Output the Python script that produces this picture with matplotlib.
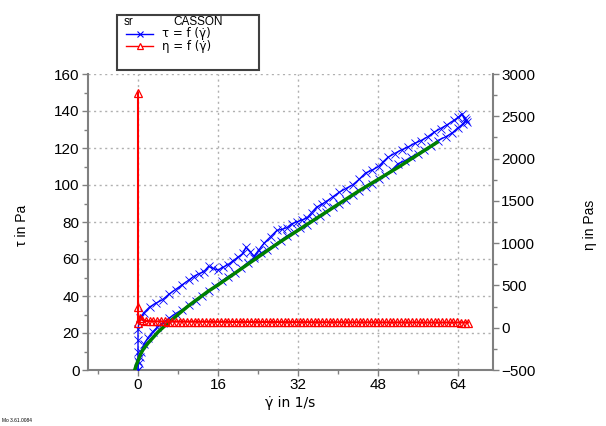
import matplotlib
matplotlib.use("Agg")
import matplotlib.pyplot as plt
from matplotlib.patches import Rectangle
from matplotlib.lines import Line2D

plt.rcParams['font.family'] = ['Liberation Sans', 'DejaVu Sans']

# shear stress, up ramp (shear rate 1/s, tau Pa)
g_up = [0, 0, 0, 0, 0, 0.3, 1.2, 2.3, 3.5, 4.9, 6.2, 7.5, 8.8, 10.1, 11.1, 12.1,
        13.1, 14.1, 15.0, 16.0, 17.0, 18.0, 19.0, 20.0, 21.0, 21.6, 22.4, 23.2,
        24.2, 25.2, 26.5, 27.8, 28.8, 29.8, 30.7, 31.7, 32.7, 33.7, 34.7, 35.7,
        36.7, 37.6, 38.9, 40.2, 41.5, 42.9, 44.2, 45.5, 46.8, 48.1, 49.0, 50.0,
        51.3, 52.7, 54.0, 55.3, 56.6, 57.9, 59.2, 60.5, 61.8, 63.2, 64.0, 64.8,
        65.3, 65.7]
tau_up = [0, 5, 10, 16, 22, 28, 31, 34, 36, 38, 41, 43.5, 46, 48.5, 50.5, 52,
          53, 56, 55, 54, 55.5, 57, 59, 61, 63, 66.5, 64, 61.5,
          65, 68.5, 72, 75.5, 76, 77, 79, 80, 81, 82, 85, 88,
          89.5, 91, 93.5, 96, 98, 100, 103, 106.5, 108, 110, 112.5, 115,
          117, 119, 120.5, 122.5, 124, 126, 128.5, 130.5, 132.5, 135, 136.5, 138.5,
          136, 134]

# shear stress, down ramp
g_down = [65.5, 65.0, 64.0, 62.8, 61.5, 59.9, 58.5, 57.2, 56.0, 54.6, 53.3, 52.0,
          50.7, 49.4, 48.1, 46.8, 45.5, 44.2, 42.9, 41.5, 40.2, 38.9, 37.6, 36.3,
          35.0, 33.7, 32.4, 31.1, 29.8, 28.5, 27.2, 25.8, 24.5, 23.2, 21.9, 20.6,
          19.3, 18.0, 16.7, 15.4, 14.1, 12.8, 11.5, 10.1, 8.8, 7.5, 6.2, 5.0,
          3.8, 2.9, 2.0, 1.2, 0.6, 0.3, 0.1, 0]
tau_down = [135, 133, 131, 128, 126, 124, 121, 119, 117, 115, 113, 111.5,
            108, 105.5, 103, 100.5, 99, 97, 94.5, 92, 90, 88, 85.5, 83,
            81, 78.5, 76.5, 74.5, 72.5, 70, 67.5, 65, 63, 60.5, 58, 55,
            52.5, 50.5, 48, 45.5, 42.5, 40, 37.5, 35, 32.5, 30.5, 28, 25.5,
            23, 20.5, 17.5, 14, 10, 7, 4, 0]

# Casson fit
g_fit = [-0.6, -0.3, 0, 0.5, 1, 2, 3, 4, 5, 6.5, 8, 10, 12, 14, 16, 20, 24, 28,
         32, 36, 40, 44, 48, 52, 56, 59.8]
tau_fit = [0.5, 3, 5, 8.5, 11, 14.5, 17.5, 20.5, 23, 26.5, 30, 34.5, 38.5, 42.5,
           46, 53.5, 61, 68.5, 75.5, 82.5, 89.5, 96.5, 103, 109.5, 116.5, 123]

# viscosity (Pas)
g_eta = [0, 0, 0, 0.3, 0.8, 1.5, 2.3, 3.0, 3.8, 4.5, 5.3, 6.0, 6.8, 7.5, 8.3,
         9.0, 9.8, 10.5, 11.3, 12.0, 12.8, 13.5, 14.3, 15.0, 15.8, 16.5, 17.3,
         18.0, 18.8, 19.5, 20.3, 21.0, 21.8, 22.5, 23.3, 24.0, 24.8, 25.5, 26.3,
         27.0, 27.8, 28.5, 29.3, 30.0, 30.8, 31.5, 32.3, 33.0, 33.8, 34.5, 35.3,
         36.0, 36.8, 37.5, 38.3, 39.0, 39.8, 40.5, 41.3, 42.0, 42.8, 43.5, 44.3,
         45.0, 45.8, 46.5, 47.3, 48.0, 48.8, 49.5, 50.3, 51.0, 51.8, 52.5, 53.3,
         54.0, 54.8, 55.5, 56.3, 57.0, 57.8, 58.5, 59.3, 60.0, 60.8, 61.5, 62.3,
         63.0, 63.8, 64.5, 65.3, 66.0]
eta = [2780, 240, 60, 115, 95, 80, 78, 76, 75, 74, 74, 73, 73, 72, 72,
       72, 71, 71, 71, 70, 70, 70, 70, 69, 69, 69, 69,
       69, 68, 68, 68, 68, 68, 68, 67, 67, 67, 67, 67,
       67, 67, 66, 66, 66, 66, 66, 66, 66, 66, 65, 65,
       65, 65, 65, 65, 65, 65, 65, 64, 64, 64, 64, 64,
       64, 64, 64, 64, 64, 63, 63, 63, 63, 63, 63, 63,
       63, 63, 63, 63, 62, 62, 62, 62, 62, 62, 62, 62,
       62, 62, 61, 61, 61]

gdot = 'γ\u0307'
dv = ['DejaVu Sans']

W, H = 606, 426
fig = plt.figure(figsize=(W / 100, H / 100), dpi=100)
ax = fig.add_axes([88 / W, 1 - 370 / H, (493 - 88) / W, (370 - 74) / H])
ax2 = ax.twinx()

spine_c = '#808080'
grid_c = '#b0b0b0'

ax.set_xlim(-10, 71)
ax.set_ylim(0, 160)
ax2.set_ylim(-500, 3000)
ax.set_xticks([0, 16, 32, 48, 64])
ax.set_xticks([-8, 8, 24, 40, 56], minor=True)
ax.set_yticks(range(0, 161, 20))
ax.set_yticks(range(10, 160, 20), minor=True)
ax2.set_yticks(range(-500, 3001, 500))
ax2.set_yticks(range(-250, 3000, 500), minor=True)

for a in (ax, ax2):
    a.spines['top'].set_visible(False)
    for s in ('left', 'right', 'bottom'):
        a.spines[s].set_color(spine_c)
        a.spines[s].set_linewidth(1.5)
    a.tick_params(which='both', colors=spine_c, labelcolor='black', labelsize=11)
    a.tick_params(which='major', length=4, width=1, pad=2)
    a.tick_params(which='minor', length=3, width=1)
ax.spines['right'].set_visible(False)
ax2.spines['left'].set_visible(False)
ax2.spines['bottom'].set_visible(False)

ax.grid(True, which='major', color=grid_c, linestyle=(0, (1.5, 2.5)), linewidth=1)
ax.set_axisbelow(True)

ax.plot(g_up, tau_up, color='#0000ff', lw=1, marker='x', ms=6, mew=0.6, zorder=3)
ax.plot(g_down, tau_down, color='#0000ff', lw=1, marker='x', ms=6, mew=0.6, zorder=3)
ax.plot(g_fit, tau_fit, color='#008000', lw=2.5, zorder=4)
ax2.plot(g_eta, eta, color='#ff0000', lw=1.5, marker='^', ms=6, mew=0.9,
         mfc='none', zorder=3)

ax.set_xlabel(gdot + ' in 1/s', fontsize=10, labelpad=3, family=dv)
fig.text(22 / W, 1 - 225 / H, 'τ in Pa', rotation=90, fontsize=10,
         ha='center', va='center')
fig.text(590 / W, 1 - 225 / H, 'η in Pas', rotation=90, fontsize=10,
         ha='center', va='center')

# legend box
fig.patches.append(Rectangle((117 / W, 1 - 70 / H), (259 - 117) / W, (70 - 15) / H,
                             transform=fig.transFigure, fill=False,
                             edgecolor='#404040', lw=1.5))
fig.text(124 / W, 1 - 22 / H, 'sr', fontsize=8.5, va='center')
fig.text(198 / W, 1 - 22 / H, 'CASSON', fontsize=8.5, va='center', ha='center')
fig.lines.append(Line2D([126 / W, 153 / W], [1 - 34 / H, 1 - 34 / H],
                        transform=fig.transFigure, color='#0000ff', lw=1))
fig.lines.append(Line2D([139.5 / W], [1 - 34 / H], transform=fig.transFigure,
                        color='#0000ff', marker='x', ms=5, mew=0.8))
fig.lines.append(Line2D([126 / W, 153 / W], [1 - 46 / H, 1 - 46 / H],
                        transform=fig.transFigure, color='#ff0000', lw=1))
fig.lines.append(Line2D([139.5 / W], [1 - 46 / H], transform=fig.transFigure,
                        color='#ff0000', marker='^', ms=5, mew=0.9, mfc='white'))
fig.text(162 / W, 1 - 34 / H, 'τ = f (' + gdot + ')', fontsize=8.5, va='center',
         family=dv)
fig.text(162 / W, 1 - 46.5 / H, 'η = f (' + gdot + ')', fontsize=8.5, va='center',
         family=dv)

fig.text(2 / W, 1 - 421 / H, 'Mo 3.61.0084', fontsize=3.5, va='center')

fig.savefig('out.png', dpi=100)
